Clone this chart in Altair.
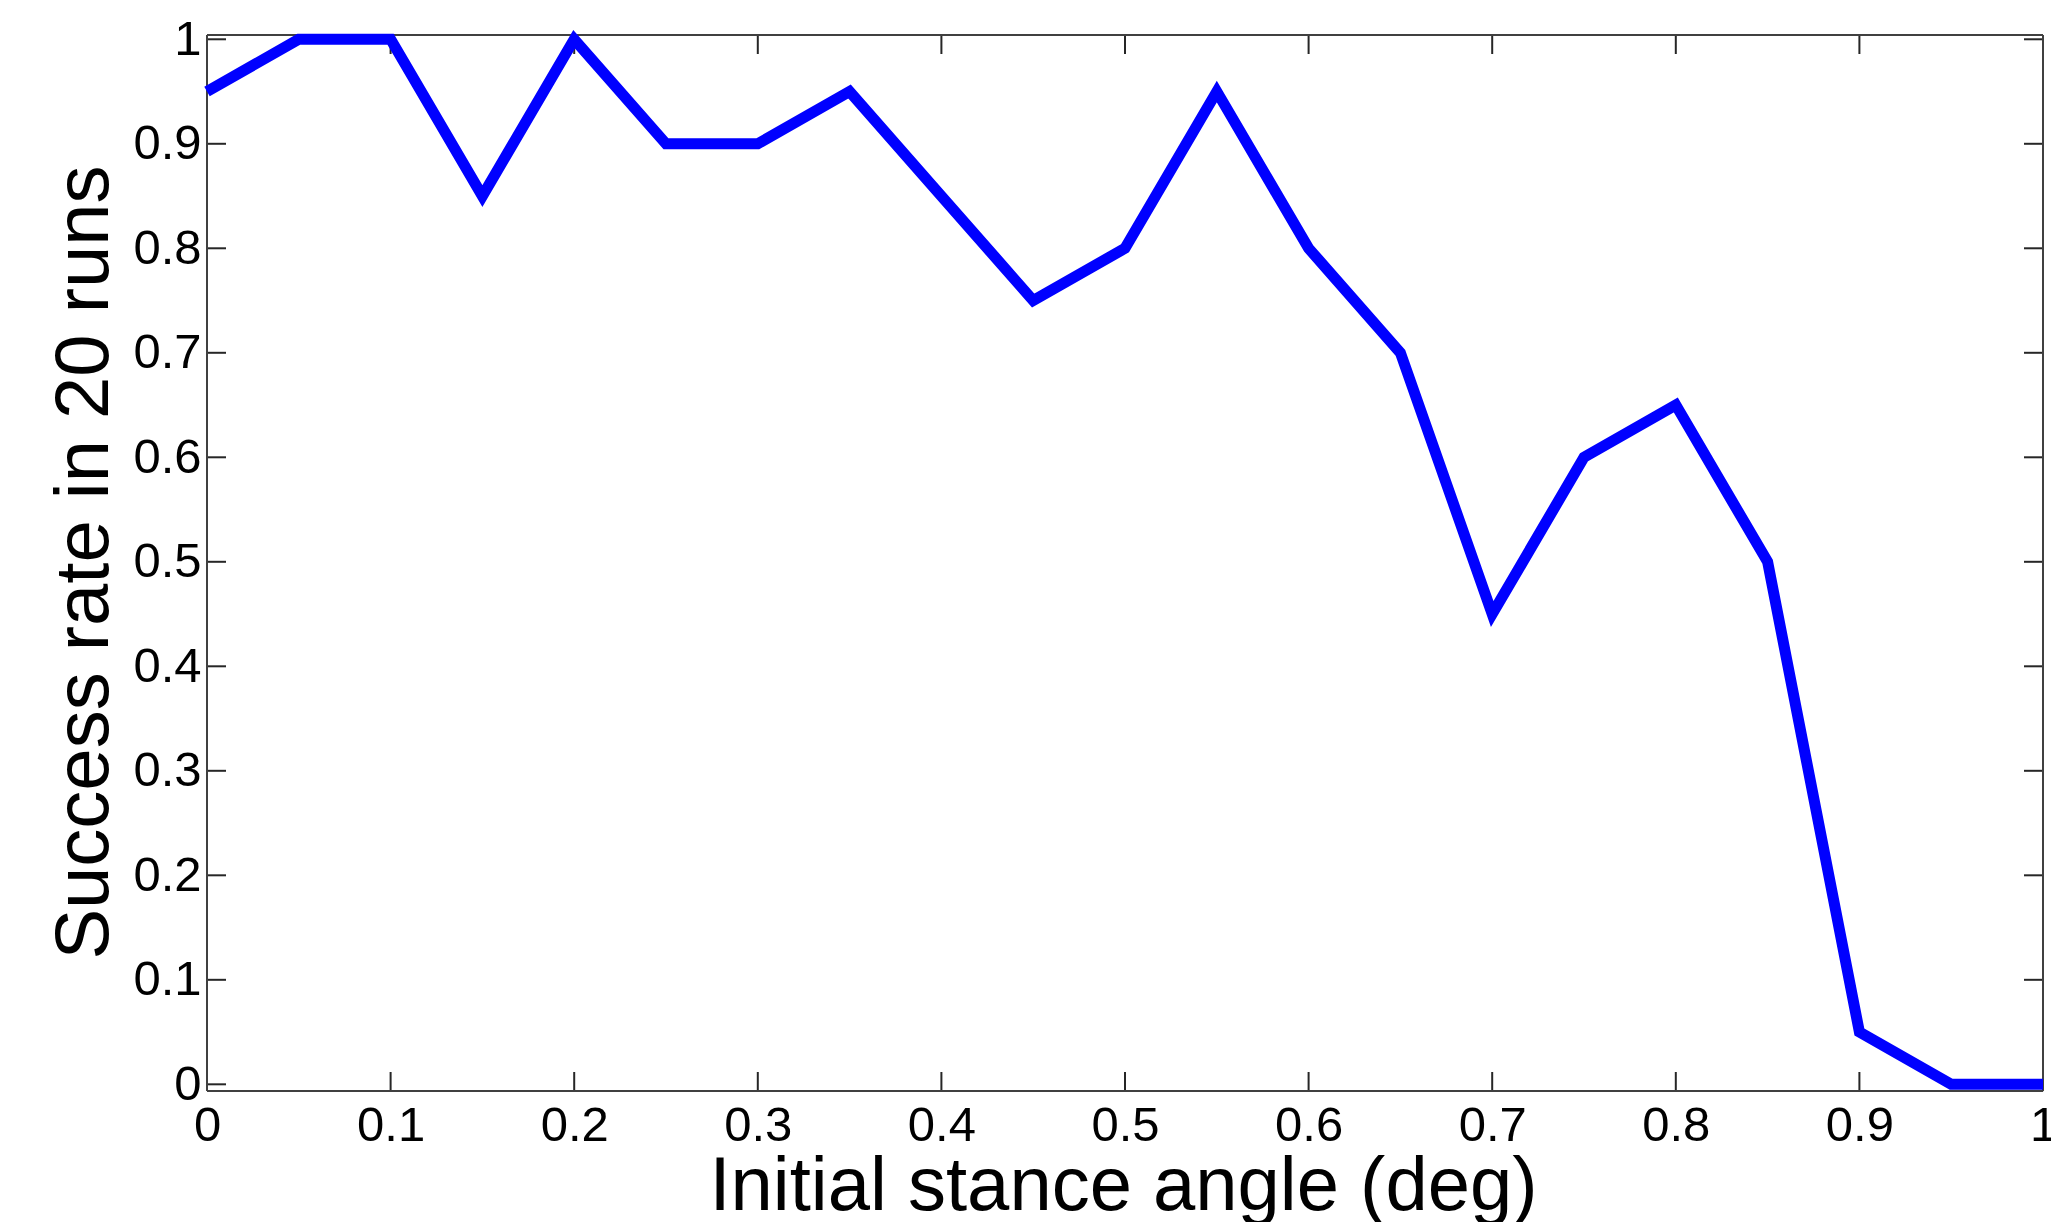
import altair as alt
import pandas as pd

# Data
angle = [0.0, 0.05, 0.1, 0.15, 0.2, 0.25, 0.3, 0.35, 0.4, 0.45, 0.5,
         0.55, 0.6, 0.65, 0.7, 0.75, 0.8, 0.85, 0.9, 0.95, 1.0]
success = [0.95, 1.0, 1.0, 0.85, 1.0, 0.9, 0.9, 0.95, 0.85, 0.75, 0.8,
           0.95, 0.8, 0.7, 0.45, 0.6, 0.65, 0.5, 0.05, 0.0, 0.0]
x_ticks = [0, 0.1, 0.2, 0.3, 0.4, 0.5, 0.6, 0.7, 0.8, 0.9, 1]
y_ticks = [0, 0.1, 0.2, 0.3, 0.4, 0.5, 0.6, 0.7, 0.8, 0.9, 1]

W, H = 1836, 1056
TICK = 19
FONT = "Liberation Sans"

df = pd.DataFrame({"angle": angle, "success": success})
xt = pd.DataFrame({"t": x_ticks})
yt = pd.DataFrame({"t": y_ticks})

xscale = alt.Scale(domain=[0, 1], nice=False, zero=False)
yscale = alt.Scale(domain=[-0.0064, 1.0041], nice=False, zero=False)

line = alt.Chart(df).mark_line(color="#0000FF", strokeWidth=11, strokeJoin="miter").encode(
    x=alt.X("angle:Q", scale=xscale,
            axis=alt.Axis(values=x_ticks, format="~g", grid=False, domain=False,
                          ticks=False, tickSize=0, labelFontSize=49, labelFont=FONT,
                          labelColor="black", labelPadding=49, labelBaseline="alphabetic",
                          labelFlush=False, labelOverlap=False,
                          title="Initial stance angle (deg)", titleFont=FONT,
                          titleFontSize=76, titleFontWeight="normal", titleColor="black",
                          titleX=916, titleY=118, titleAlign="center",
                          titleBaseline="alphabetic", titleAngle=0)),
    y=alt.Y("success:Q", scale=yscale,
            axis=alt.Axis(values=y_ticks, format="~g", grid=False, domain=False,
                          ticks=False, tickSize=0, labelFontSize=49, labelFont=FONT,
                          labelColor="black", labelPadding=6, labelBaseline="middle",
                          labelFlush=False, labelOverlap=False,
                          title="Success rate in 20 runs", titleFont=FONT,
                          titleFontSize=76, titleFontWeight="normal", titleColor="black",
                          titleX=-99.5, titleY=527, titleAlign="center",
                          titleBaseline="alphabetic", titleAngle=270)),
)

tick_color = "#262626"
frame_color = "#404040"
bottom_ticks = alt.Chart(xt).mark_rule(color=tick_color, strokeWidth=2).encode(
    x=alt.X("t:Q", scale=xscale), y=alt.value(H), y2=alt.value(H - TICK))
top_ticks = alt.Chart(xt).mark_rule(color=tick_color, strokeWidth=2).encode(
    x=alt.X("t:Q", scale=xscale), y=alt.value(0), y2=alt.value(TICK))
left_ticks = alt.Chart(yt).mark_rule(color=tick_color, strokeWidth=2).encode(
    y=alt.Y("t:Q", scale=yscale), x=alt.value(0), x2=alt.value(TICK))
right_ticks = alt.Chart(yt).mark_rule(color=tick_color, strokeWidth=2).encode(
    y=alt.Y("t:Q", scale=yscale), x=alt.value(W), x2=alt.value(W - TICK))

frame_src = alt.Chart(pd.DataFrame({"k": [0]}))
frame_top = frame_src.mark_rule(color=frame_color, strokeWidth=2).encode(
    x=alt.value(0), x2=alt.value(W), y=alt.value(0))
frame_bottom = frame_src.mark_rule(color=frame_color, strokeWidth=2).encode(
    x=alt.value(0), x2=alt.value(W), y=alt.value(H))
frame_left = frame_src.mark_rule(color=frame_color, strokeWidth=2).encode(
    y=alt.value(0), y2=alt.value(H), x=alt.value(0))
frame_right = frame_src.mark_rule(color=frame_color, strokeWidth=2).encode(
    y=alt.value(0), y2=alt.value(H), x=alt.value(W))

chart = alt.layer(bottom_ticks, top_ticks, left_ticks, right_ticks,
                  frame_top, frame_bottom, frame_left, frame_right, line).properties(
    width=W, height=H,
    autosize=alt.AutoSizeParams(type="none"),
    padding={"left": 199, "top": 27, "right": 8, "bottom": 131},
).configure_view(stroke=None).configure(background="white")

chart.save("out.html", embed_options={"renderer": "svg", "actions": False})
